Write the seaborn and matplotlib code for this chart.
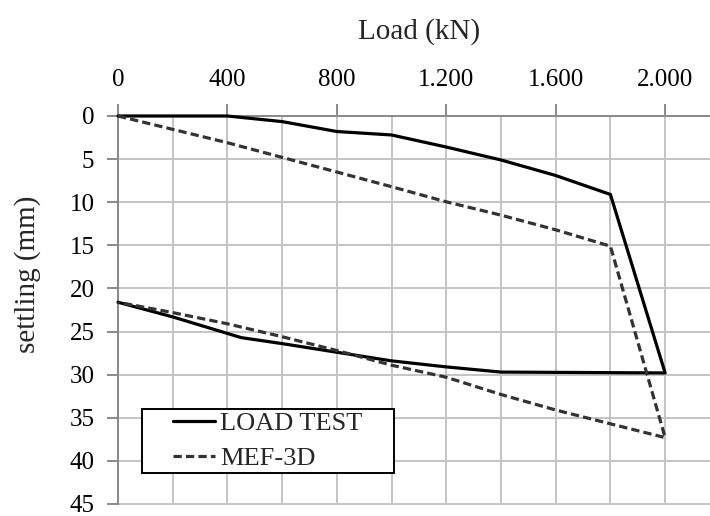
import matplotlib
matplotlib.use("Agg")
import matplotlib.pyplot as plt
import matplotlib.patches as mpatches
import matplotlib.ticker as mticker
import seaborn as sns
import pandas as pd

# ---- data ----
load_test_kn = [0, 400, 600, 800, 1000, 1200, 1400, 1600, 1800, 2000,
                1400, 1200, 1000, 800, 600, 450, 200, 0]
load_test_mm = [0, 0, 0.65, 1.8, 2.2, 3.6, 5.1, 6.9, 9.1, 29.8,
                29.7, 29.1, 28.4, 27.4, 26.4, 25.7, 23.3, 21.6]
mef_kn = [0, 400, 600, 800, 1000, 1200, 1400, 1600, 1800, 2000,
          1800, 1600, 1400, 1200, 1000, 800, 600, 400, 200, 0]
mef_mm = [0, 3.1, 4.8, 6.5, 8.2, 9.95, 11.5, 13.2, 15.1, 37.3,
          35.7, 34.1, 32.3, 30.3, 28.9, 27.2, 25.6, 24.1, 22.8, 21.6]
series_names = ["LOAD TEST", "MEF-3D"]
x_ticks = [0, 400, 800, 1200, 1600, 2000]
x_tick_labels = ["0", "400", "800", "1.200", "1.600", "2.000"]
x_grid = [0, 200, 400, 600, 800, 1000, 1200, 1400, 1600, 1800, 2000]
y_ticks = [0, 5, 10, 15, 20, 25, 30, 35, 40, 45]
x_label = "Load (kN)"
y_label = "settling (mm)"

df = pd.concat([
    pd.DataFrame({"load": load_test_kn, "settle": load_test_mm, "series": series_names[0]}),
    pd.DataFrame({"load": mef_kn, "settle": mef_mm, "series": series_names[1]}),
], ignore_index=True)

sns.set_theme(style="white")
plt.rcParams['font.family'] = ['Liberation Serif', 'DejaVu Serif']

W, H = 710, 516
fig = plt.figure(figsize=(W / 100, H / 100), dpi=100)
ax = fig.add_axes([118 / W, 12 / H, 592 / W, 388 / H])

sns.lineplot(data=df, x="load", y="settle", hue="series", style="series",
             palette={series_names[0]: "black", series_names[1]: "#333333"},
             dashes={series_names[0]: "", series_names[1]: (2.6, 1.3)},
             sort=False, estimator=None, linewidth=2.3, ax=ax, legend=True)
for ln in ax.get_lines():
    ln.set_clip_on(False)
    ln.set_zorder(3)

ax.set_xlim(0, 2164)
ax.set_ylim(45, 0)
ax.xaxis.tick_top()
ax.xaxis.set_major_locator(mticker.FixedLocator(x_ticks))
ax.xaxis.set_major_formatter(mticker.FixedFormatter(x_tick_labels))
ax.xaxis.set_minor_locator(mticker.FixedLocator(x_grid))
ax.yaxis.set_major_locator(mticker.FixedLocator(y_ticks))

gcol = "#c4c4c4"
ax.grid(True, which="both", axis="x", color=gcol, lw=1.4)
ax.grid(True, which="major", axis="y", color=gcol, lw=1.4)
for ln in ax.get_ygridlines() + ax.get_xgridlines():
    ln.set_clip_on(False)

scol = "#8a8a8a"
for side in ["bottom", "right"]:
    ax.spines[side].set_visible(False)
for side in ["top", "left"]:
    ax.spines[side].set_visible(True)
    ax.spines[side].set_color(scol)
    ax.spines[side].set_linewidth(1.4)
    ax.spines[side].set_zorder(2.5)

ax.tick_params(axis="x", which="major", top=True, bottom=False, labeltop=True,
               labelbottom=False, length=9, width=1.4, color=scol,
               labelsize=18, pad=9, direction="out", labelcolor="black")
ax.tick_params(axis="x", which="minor", top=False, bottom=False, length=0)
ax.tick_params(axis="y", which="major", left=True, length=8, width=1.4,
               color=scol, labelsize=18, pad=9, direction="out", labelcolor="black")

ax.set_xlabel(x_label, fontsize=21)
ax.xaxis.set_label_position("top")
ax.xaxis.set_label_coords(0.508, 1.20)
ax.set_ylabel(y_label, fontsize=21)
ax.yaxis.set_label_coords(-0.13, 0.593)

handles, labels = ax.get_legend_handles_labels()
leg = ax.legend(handles, labels, loc="upper left",
                bbox_to_anchor=((172.7 - 118) / 592, (504 - 412) / 388),
                frameon=False, fontsize=19, handlelength=1.6,
                handletextpad=0.2, labelspacing=0.42, borderpad=0,
                borderaxespad=0)
leg.set_zorder(6)

fig.canvas.draw()
bb = leg.get_window_extent()
padx, pady = 31, 3
inv = fig.transFigure.inverted()
(x0, y0) = inv.transform((bb.x0 - padx, bb.y0 - pady))
(x1, y1) = inv.transform((bb.x1 + padx, bb.y1 + pady))
rect = mpatches.Rectangle((x0, y0), x1 - x0, y1 - y0, transform=fig.transFigure,
                          facecolor="white", edgecolor="black", lw=1.4,
                          zorder=5, clip_on=False)
ax.add_patch(rect)

fig.savefig("out.png", dpi=100)
